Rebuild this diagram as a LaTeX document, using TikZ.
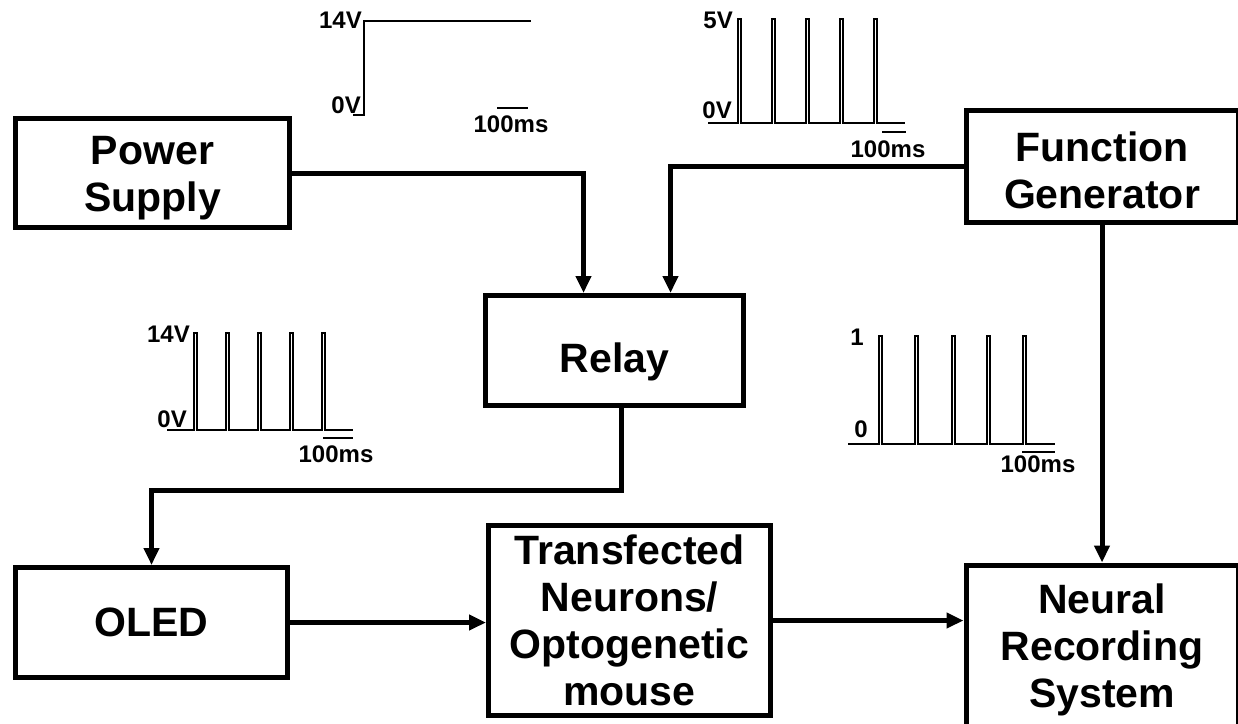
\documentclass[tikz,border=0pt]{standalone}
\usepackage{fontspec}
\setmainfont{Liberation Sans}
\usepackage{tikz}
\usetikzlibrary{arrows.meta,positioning}

\begin{document}
\begin{tikzpicture}[x=1pt, y=-1pt,
    block/.style={draw, line width=5pt, inner sep=0pt, align=center, font=\fontsize{41}{47}\selectfont\bfseries},
    wire/.style={line width=5pt, -{Triangle[length=17pt, width=15pt]}},
    wave/.style={line width=2pt},
    lbl/.style={inner sep=0pt, font=\fontsize{24}{24}\selectfont\bfseries}]
    \useasboundingbox (0,0) rectangle (1238,723);
    \clip (0,0) rectangle (1238,723);

    % Blocks
    \node[block, minimum width=274pt, minimum height=109pt] (power) at (152.5,173) {\rule{0pt}{38pt}Power\\Supply};
    \node[block, minimum width=272pt, minimum height=112pt] (fgen) at (1102,166.5) {\rule{0pt}{37pt}Function\\Generator};
    \node[block, minimum width=258pt, minimum height=110pt, text height=43pt, text depth=0pt] (relay) at (614.5,350.5) {Relay};
    \node[block, minimum width=272pt, minimum height=110pt] (oled) at (151.5,622.5) {OLED};
    \node[block, minimum width=282pt, minimum height=190pt] (neurons) at (629.5,620.5) {Transfected\\Neurons/\\Optogenetic\\mouse};
    \node[block, minimum width=272pt, minimum height=170pt] (record) at (1102,650) {Neural\\Recording\\System};

    % Connections
    \draw[wire] (power.east) -| ([xshift=-31pt]relay.north);
    \draw[wire] (fgen.west) -| ([xshift=56pt]relay.north);
    \draw[wire] ([xshift=7pt]relay.south) -- ++(0,82) -| (oled.north);
    \draw[wire] (fgen.south) -- (fgen.south |- record.north);
    \draw[wire] (oled.east) -- (oled.east -| neurons.west);
    \draw[wire] (neurons.east) -- (neurons.east -| record.west);

    % Power supply output: step
    \draw[wave] (353,115) -- (364,115) -- (364,21) -- (531,21);
    \draw[wave] (497,108) -- (528,108);
    \node[lbl, anchor=base east] (ps14) at (362,28) {14V};
    \node[lbl, anchor=base east] (ps0) at (361,113) {0V};
    \node[lbl, anchor=base] (pst) at (511,132) {100ms};

    % Function generator output
    \draw[wave] (708,123) \foreach \x in {738,772,806,840,874} {-- (\x,123) -- (\x,19) -- (\x+3,19) -- (\x+3,123)} -- (905,123);
    \draw[wave] (882,132) -- (906,132);
    \node[lbl, anchor=base east] (fg5) at (733,28) {5V};
    \node[lbl, anchor=base east] (fg0) at (732,118) {0V};
    \node[lbl, anchor=base] (fgt) at (888,157) {100ms};

    % Relay output
    \draw[wave] (167,430) \foreach \x in {194,226,258,290,322} {-- (\x,430) -- (\x,333) -- (\x+3,333) -- (\x+3,430)} -- (353,430);
    \draw[wave] (323,438) -- (353,438);
    \node[lbl, anchor=base east] (rl14) at (190,342) {14V};
    \node[lbl, anchor=base east] (rl0) at (187,427) {0V};
    \node[lbl, anchor=base] (rlt) at (336,462) {100ms};

    % Recorded trigger
    \draw[wave] (848,444) \foreach \x in {879,915,952,987,1023} {-- (\x,444) -- (\x,336) -- (\x+3,336) -- (\x+3,444)} -- (1055,444);
    \draw[wave] (1022,452) -- (1055,452);
    \node[lbl, anchor=base east] (tr1) at (864,345) {1};
    \node[lbl, anchor=base east] (tr0) at (868,437) {0};
    \node[lbl, anchor=base] (trt) at (1038,472) {100ms};
\end{tikzpicture}
\end{document}
